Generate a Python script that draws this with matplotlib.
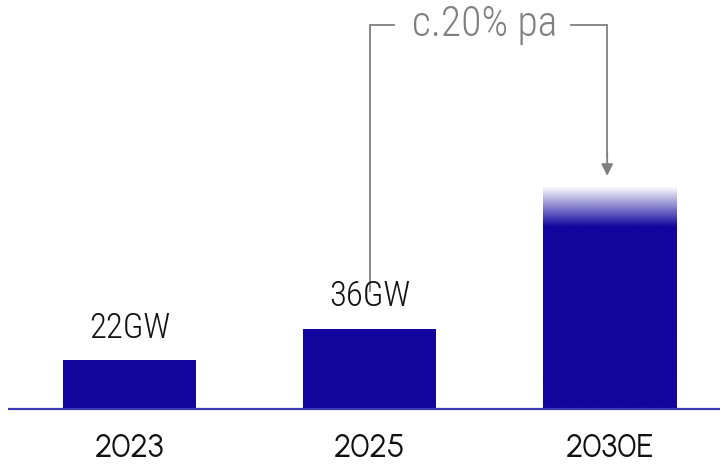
import numpy as np
import matplotlib
matplotlib.use("Agg")
import matplotlib.pyplot as plt
from matplotlib.colors import to_rgb

# capacity by year (GW)
years = ["2023", "2025", "2030E"]
capacity = [22, 36, 100]
value_labels = ["22GW", "36GW", None]
growth_label = "c.20% pa"

bar_color = "#12069e"
axis_color = "#3b3ab0"
note_color = "#808080"
label_font = ["Roboto Condensed", "DejaVu Sans"]

fig = plt.figure(figsize=(7.2, 4.68), dpi=100)
ax = fig.add_axes([0, 0, 1, 1])
ax.set_xlim(-0.54, 2.46)
ax.set_ylim(-26.6, 184.2)
ax.axis("off")

x = np.arange(len(years))
bars = ax.bar(x, capacity, width=0.555, color=bar_color, zorder=2)

# fade the top of the forecast bar
last = bars[-1]
last.set_facecolor("none")
x0, w, h = last.get_x(), last.get_width(), last.get_height()
n = 200
frac = np.linspace(0, 1, n)[:, None]  # 0 at bottom, 1 at top
alpha = np.clip((1 - frac) / 0.18, 0.04, 1.0)
grad = np.zeros((n, 1, 4))
grad[..., :3] = to_rgb(bar_color)
grad[..., 3] = alpha
im = ax.imshow(grad, extent=[x0, x0 + w, 0, h], origin="lower",
               aspect="auto", interpolation="bilinear", zorder=2)
im.set_clip_path(last)

# baseline
ax.plot([-0.505, 2.46], [0, 0], color=axis_color, lw=1.6, zorder=3,
        solid_capstyle="butt")

# value labels above bars
for xi, val, lab in zip(x, capacity, value_labels):
    if lab:
        ax.text(xi, val + 7, lab, ha="center", va="bottom", fontsize=25,
                family=label_font, weight="light", color="#111111")

# year labels under the axis
for xi, yr in zip(x, years):
    ax.text(xi, -17.6, yr, ha="center", va="center", fontsize=23,
            family=["Urbanist", "DejaVu Sans"], color="#111111")

# growth bracket from 2025 to 2030E
top = 173
ax.plot([1, 1, 1.1], [capacity[1] + 17, top, top], color=note_color,
        lw=1.3, solid_joinstyle="miter")
ax.plot([1.84, 1.99, 1.99], [top, top, capacity[2] + 14], color=note_color,
        lw=1.3, solid_joinstyle="miter")
ax.annotate("", xy=(1.99, capacity[2] + 5), xytext=(1.99, capacity[2] + 15),
            arrowprops=dict(arrowstyle="-|>,head_length=0.7,head_width=0.35",
                            color=note_color, lw=1.3, shrinkA=0, shrinkB=0))
ax.text(1.48, top, growth_label, ha="center", va="center", fontsize=30,
        family=label_font, weight="light", color=note_color)

fig.savefig("out.png", dpi=100)
